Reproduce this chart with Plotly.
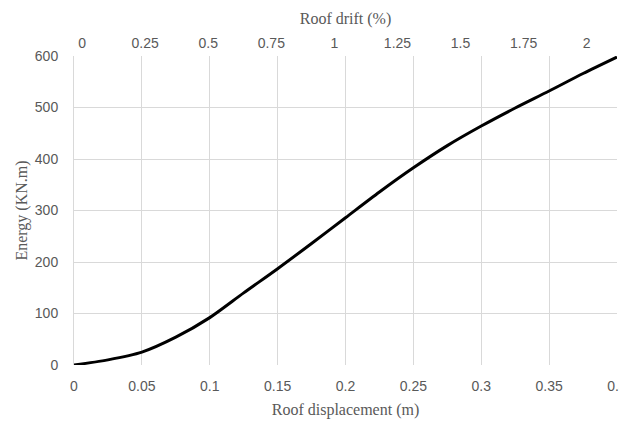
import plotly.graph_objects as go

displacement = [0, 0.025, 0.05, 0.075, 0.1, 0.125, 0.15, 0.175, 0.2, 0.225,
                0.25, 0.275, 0.3, 0.325, 0.35, 0.375, 0.4]
energy = [0, 10, 25, 54, 92, 140, 187, 236, 286, 336, 383, 426, 464, 499,
          532, 566, 598]

x_ticks = [0, 0.05, 0.1, 0.15, 0.2, 0.25, 0.3, 0.35, 0.4]
x_ticktext = ["0", "0.05", "0.1", "0.15", "0.2", "0.25", "0.3", "0.35", "0.4"]
drift_ticks = [0, 0.25, 0.5, 0.75, 1, 1.25, 1.5, 1.75, 2]
drift_ticktext = ["0", "0.25", "0.5", "0.75", "1", "1.25", "1.5", "1.75", "2"]
y_ticks = [0, 100, 200, 300, 400, 500, 600]

tick_font = dict(family="Liberation Sans Narrow, Liberation Sans, Arial", size=14, color="#595959")
title_font = dict(family="Liberation Serif, DejaVu Serif, serif", size=16, color="#595959")
grid = "#d9d9d9"

fig = go.Figure()
fig.add_trace(go.Scatter(x=displacement, y=energy, mode="lines",
                         line=dict(color="black", width=3, shape="spline", smoothing=0.8),
                         showlegend=False, hoverinfo="skip"))
# invisible trace to attach the secondary (top) axis
fig.add_trace(go.Scatter(x=[drift_ticks[0], drift_ticks[-1]], y=[0, 0], xaxis="x2",
                         mode="lines", line=dict(width=0), opacity=0,
                         showlegend=False, hoverinfo="skip"))

# the page body adds an 8px margin; size and margins compensate for it
fig.update_layout(
    width=619, height=411,
    margin=dict(l=66, r=10, t=48, b=54),
    paper_bgcolor="white", plot_bgcolor="white",
    xaxis=dict(range=[0, 0.4], tickvals=x_ticks, ticktext=x_ticktext,
               showgrid=True, gridcolor=grid, gridwidth=1, zeroline=False,
               showline=False, ticks="", tickfont=tick_font, automargin=False,
               ticklabelstandoff=11, ticklabeloverflow="allow",
               title=dict(text="Roof displacement (m)", font=title_font, standoff=14)),
    xaxis2=dict(overlaying="x", side="top", range=[-0.032, 2.12],
                tickvals=drift_ticks, ticktext=drift_ticktext,
                showgrid=False, zeroline=False, showline=False, ticks="",
                tickfont=tick_font, automargin=False, ticklabelstandoff=4,
                title=dict(text="Roof drift (%)", font=title_font, standoff=6)),
    yaxis=dict(range=[0, 600], tickvals=y_ticks, showgrid=True, gridcolor=grid,
               gridwidth=1, zeroline=False, showline=True, linecolor=grid,
               ticks="", tickfont=tick_font, automargin=False, ticklabelstandoff=12,
               title=dict(text="Energy (KN.m)", font=title_font, standoff=3)),
)

fig.write_html("out.html")
